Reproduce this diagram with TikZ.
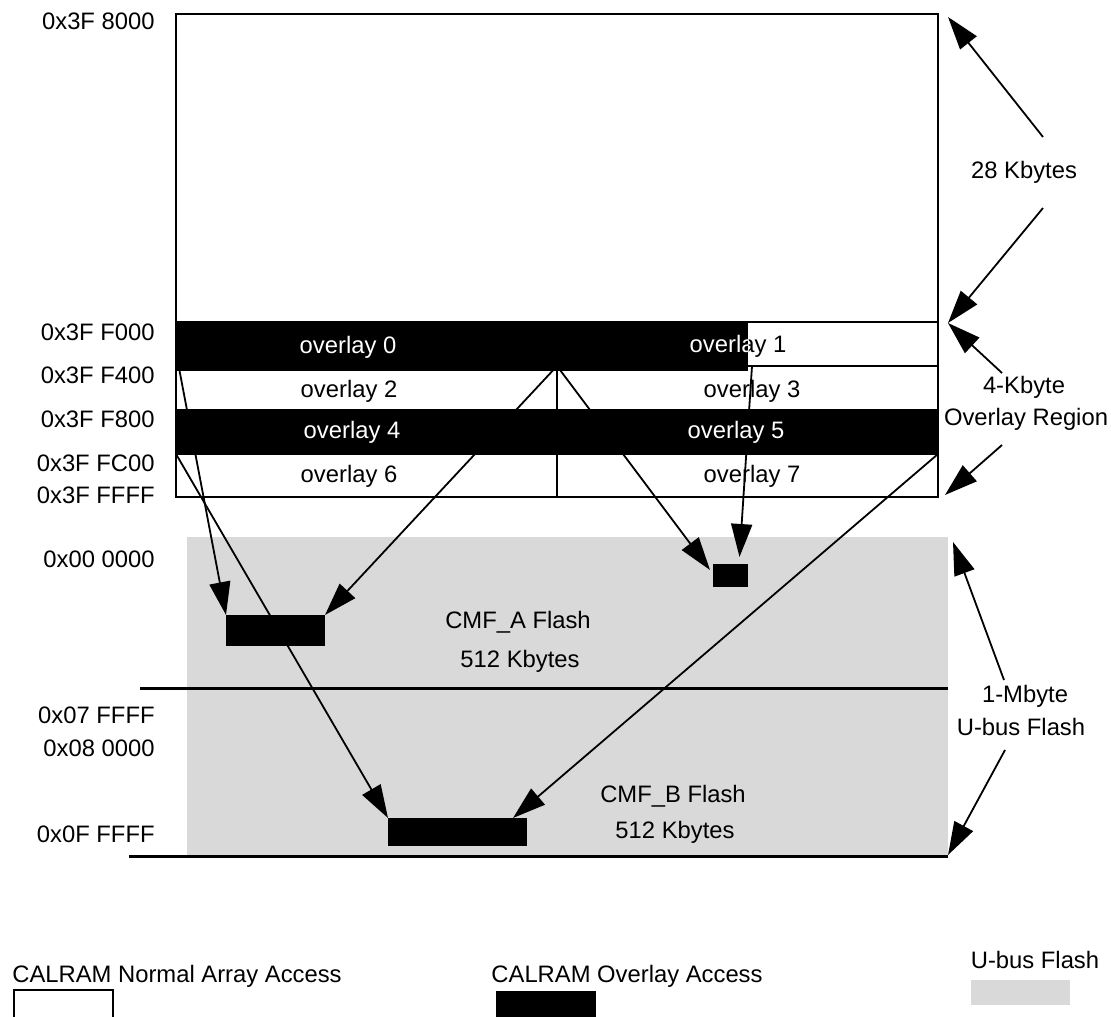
\documentclass[tikz,border=0pt]{standalone}
\usepackage{fontspec}
\setmainfont{Liberation Sans}
\usetikzlibrary{arrows.meta,calc}
\definecolor{flashgray}{RGB}{217,217,217}
\tikzset{
  txt/.style={font=\fontsize{11.9}{14}\selectfont,inner sep=0pt,anchor=base},
  addr/.style={txt,anchor=base east},
  wtxt/.style={txt,text=white},
  frm/.style={draw,line width=1pt},
  blk/.style={fill=black,inner sep=0pt,outer sep=0pt},
  sep/.style={line width=1.5pt},
  fl/.style={-{Triangle[length=16.5pt,width=10.5pt]},line width=0.9pt},
}

\begin{document}
\begin{tikzpicture}[x=0.5pt,y=-0.5pt]
  \useasboundingbox (0,0) rectangle (1111,1016);
  \clip (0,0) rectangle (1111,1016);
  % flash area
  \fill[flashgray] (187,537) rectangle (948,858);
  \draw[sep] (140,688) -- (948,688);
  \draw[sep] (129,856) -- (948,856);
  % CALRAM box
  \draw[frm] (176,14) rectangle (938,497);
  \foreach \y in {322,366,410,454}
    \draw[frm] (176,\y) -- (938,\y);
  \draw[frm] (557,322) -- (557,497);
  \fill (175,322) rectangle (748,371);
  \fill (176,409) rectangle (938,455);
  \node[txt] (ov1) at (738,352) {overlay 1};
  \node[txt] (ov2) at (349,397) {overlay 2};
  \node[txt] (ov3) at (752,397) {overlay 3};
  \node[txt] (ov6) at (349,482) {overlay 6};
  \node[txt] (ov7) at (752,482) {overlay 7};
  % addresses
  \node[addr] (a0) at (155,30) {0x3F 8000};
  \node[addr] (a1) at (155,340) {0x3F F000};
  \node[addr] (a2) at (155,383) {0x3F F400};
  \node[addr] (a3) at (155,427) {0x3F F800};
  \node[addr] (a4) at (155,471) {0x3F FC00};
  \node[addr] (a5) at (155,503) {0x3F FFFF};
  \node[addr] (a6) at (155,567) {0x00 0000};
  \node[addr] (a7) at (155,723) {0x07 FFFF};
  \node[addr] (a8) at (155,756) {0x08 0000};
  \node[addr] (a9) at (155,842) {0x0F FFFF};
  % flash blocks
  \node[txt] (cmfa) at (518,628) {CMF\_A Flash};
  \node[txt] (sza) at (520,667) {512 Kbytes};
  \node[txt] (cmfb) at (673,802) {CMF\_B Flash};
  \node[txt] (szb) at (675,838) {512 Kbytes};
  \node[blk,minimum width=49.5pt,minimum height=15.5pt] (tgtA) at (275.5,630.5) {};
  \node[blk,minimum width=17.5pt,minimum height=11.5pt] (tgtS) at (730.5,575.5) {};
  \node[blk,minimum width=69.5pt,minimum height=14pt] (tgtB) at (457.5,832) {};
  % overlay mapping
  \coordinate (s0) at (179,368);
  \coordinate (s6) at (176,454);
  \coordinate (smid) at (557,366);
  \coordinate (s1) at (752,366);
  \coordinate (s7) at (938,454);
  \draw[fl] (s0) -- (tgtA.north west);
  \draw[fl] (smid) -- (tgtA.north east);
  \draw[fl] (s6) -- (tgtB.north west);
  \draw[fl] (s7) -- ($(tgtB.north east)+(-14,0)$);
  \draw[fl] (smid) -- ($(tgtS.north west)+(-3,6)$);
  \draw[fl] (s1) -- ($(tgtS.north)+(9,-7)$);
  % white labels on overlay blocks
  \node[wtxt] (ov0) at (348,353) {overlay 0};
  \begin{scope}
    \clip (175,322) rectangle (748,371);
    \node[wtxt] (ov1w) at (738,352) {overlay 1};
  \end{scope}
  \node[wtxt] (ov4) at (352,438) {overlay 4};
  \node[wtxt] (ov5) at (736,438) {overlay 5};
  % sizes
  \node[txt] (k28) at (1024,178) {28 Kbytes};
  \node[txt] (k4) at (1024,393) {4-Kbyte};
  \node[txt] (ovr) at (1026,425) {Overlay Region};
  \node[txt] (m1) at (1025,702) {1-Mbyte};
  \node[txt] (ubf) at (1021,735) {U-bus Flash};
  \coordinate (k28u) at (1043,137);
  \coordinate (k28d) at (1043,208);
  \coordinate (k4u) at (1002,373);
  \coordinate (k4d) at (1002,445);
  \coordinate (m1u) at (1004,680);
  \coordinate (m1d) at (1005,750);
  \coordinate (t1) at (948,17);
  \coordinate (t2) at (948,323);
  \coordinate (t3) at (945,495);
  \coordinate (t4) at (953,542);
  \coordinate (t5) at (948,855);
  \draw[fl] (k28u) -- (t1);
  \draw[fl] (k28d) -- (t2);
  \draw[fl] (k4u) -- (t2);
  \draw[fl] (k4d) -- (t3);
  \draw[fl] (m1u) -- (t4);
  \draw[fl] (m1d) -- (t5);
  % legend
  \node[txt] (lg1) at (177,982) {CALRAM Normal Array Access};
  \node[txt] (lg2) at (627,982) {CALRAM Overlay Access};
  \node[txt] (lg3) at (1035,968) {U-bus Flash};
  \draw[frm] (14,990) rectangle (113,1030);
  \fill (496,991) rectangle (596,1020);
  \fill[flashgray] (971,980) rectangle (1070,1005);
\end{tikzpicture}
\end{document}
